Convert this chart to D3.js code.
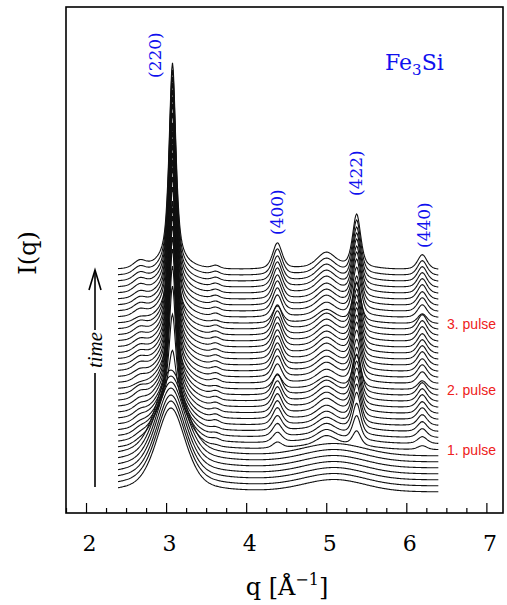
<!DOCTYPE html>
<html><head><meta charset="utf-8">
<script src="https://cdnjs.cloudflare.com/ajax/libs/d3/7.8.5/d3.min.js"></script>
<style>body{margin:0;background:#fff}svg{display:block}</style>
</head><body>
<script>
// ---- data (intensity in arbitrary units) ----
const xTicks = [2, 3, 4, 5, 6, 7];
const peakLabels = ["(220)", "(400)", "(422)", "(440)"];
const peakPos = [3.08, 4.39, 5.38, 6.20];
const pulseLabels = ["1. pulse", "2. pulse", "3. pulse"];
const pulseStart = [7, 17, 28];           // curve index where each pulse group begins
const qRange = [2.4, 6.4];
const curveStep = 6.0;                     // vertical offset between successive scans
const baseOffset = 21;

// broad amorphous halo at q~3.06
const amorphHeight = [84,85,85,86,86,86,86,
  60,50,42,36,32,28,26,24,22,20,
  22,18,16,15,14,13,12,12,11,11,10,
  12,10,9,9,8,8,8,7,7,7];
// broad amorphous hump at q~5.1
const amorph2Height = [12,12,12,12,12,12,12,
  6,5,4,4,3,3,3,3,3,3,
  3,3,3,3,3,3,3,3,3,3,3,
  3,3,3,3,3,3,3,3,3,3];
// Bragg peaks
const h220 = [0,0,0,0,0,0,0,
  40,80,110,130,145,155,162,168,172,175,
  130,165,175,180,184,187,189,191,192,193,194,
  150,185,190,193,195,196,197,198,199,200];
const h400 = [0,0,0,0,0,0,0,
  6,10,13,15,17,18,19,20,20,21,
  14,19,21,22,22,23,23,24,24,24,24,
  17,22,23,24,24,25,25,25,26,26];
const h422 = [0,0,0,0,0,0,0,
  14,24,31,36,39,41,43,44,45,46,
  32,42,45,47,48,49,49,50,50,51,51,
  38,48,50,51,51,52,52,52,53,53];
const h440 = [0,0,0,0,0,0,0,
  4,7,9,10,11,12,12,13,13,13,
  9,12,13,13,14,14,14,14,15,15,15,
  10,13,14,14,15,15,15,15,15,15];
// weak features at q~2.67, ~3.62 and ~5.0
const hLow = [0,0,0,0,0,0,0,
  2,3,4,4,5,5,5,5,6,6,
  3,5,5,6,6,6,6,6,6,6,6,
  4,6,6,6,6,7,7,7,7,7];
const h362 = [0,0,0,0,0,0,0,
  1,2,2,2,3,3,3,3,3,3,
  2,3,3,3,3,3,3,3,3,3,3,
  2,3,3,3,3,3,3,3,3,3];
const h500 = [0,0,0,0,0,0,0,
  8,9,10,10,11,11,12,12,12,12,
  10,11,12,12,12,13,13,13,13,13,13,
  11,12,13,13,13,14,14,14,14,14];

// ---- layout ----
const W = 507, H = 605;
const frame = {x0: 66, x1: 503, y0: 7, y1: 513};
const svg = d3.select("body").append("svg").attr("width", W).attr("height", H);

const x = d3.scaleLinear().domain([1.75, 7.22]).range([frame.x0, frame.x1 + 1]);
const y = d3.scaleLinear().domain([0, 506]).range([frame.y1, frame.y0]);

function pv(q, c, w, eta) {
  const d = (q - c) / w;
  return eta / (1 + d * d) + (1 - eta) * Math.exp(-Math.LN2 * d * d);
}
const qGrid = d3.range(qRange[0], qRange[1] + 1e-9, 0.01);
function intensity(q, i) {
  return baseOffset + i * curveStep
    + amorphHeight[i] * pv(q, 3.06, 0.22, 0.5)
    + amorph2Height[i] * pv(q, 5.1, 0.45, 0)
    + h220[i] * pv(q, peakPos[0], 0.05, 0.7)
    + h400[i] * pv(q, peakPos[1], 0.07, 0.5)
    + h422[i] * pv(q, peakPos[2], 0.06, 0.5)
    + h440[i] * pv(q, peakPos[3], 0.07, 0.5)
    + hLow[i] * pv(q, 2.67, 0.09, 0.3)
    + h362[i] * pv(q, 3.62, 0.06, 0.3)
    + h500[i] * pv(q, 5.0, 0.13, 0.3);
}

const line = d3.line().x(d => x(d[0])).y(d => y(d[1])).curve(d3.curveLinear);
const curves = svg.append("g");
amorphHeight.forEach((_, i) => {
  curves.append("path")
    .attr("d", line(qGrid.map(q => [q, intensity(q, i)])))
    .attr("fill", "none").attr("stroke", "#111").attr("stroke-width", 1.1);
});

// frame
svg.append("rect").attr("x", frame.x0).attr("y", frame.y0)
  .attr("width", frame.x1 - frame.x0).attr("height", frame.y1 - frame.y0)
  .attr("fill", "none").attr("stroke", "#000").attr("stroke-width", 1.6);

// x axis (inward ticks)
const minor = d3.range(1.75, 7.21, 0.25).filter(v => Math.abs(v - Math.round(v)) > 1e-6);
const gMinor = svg.append("g").attr("transform", `translate(0,${frame.y1})`)
  .call(d3.axisBottom(x).tickValues(minor).tickSize(-5).tickFormat(""));
const gMajor = svg.append("g").attr("transform", `translate(0,${frame.y1})`)
  .call(d3.axisBottom(x).tickValues(xTicks).tickSize(-10).tickPadding(22).tickFormat(d3.format("d")));
[gMinor, gMajor].forEach(g => {
  g.select(".domain").remove();
  g.selectAll("line").attr("stroke", "#000").attr("stroke-width", 1.2);
});
gMajor.selectAll("text").attr("font-family", "DejaVu Serif").attr("font-size", 22)
  .attr("fill", "#000").attr("dx", 3);

// axis titles
const xt = svg.append("text").attr("x", 287).attr("y", 595).attr("text-anchor", "middle")
  .attr("font-family", "DejaVu Serif").attr("font-size", 24).attr("fill", "#000");
xt.append("tspan").text("q [Å");
xt.append("tspan").attr("font-size", 16).attr("dy", -10).text("−1");
xt.append("tspan").attr("dy", 10).text("]");

svg.append("text").attr("transform", "translate(36,253) rotate(-90)")
  .attr("text-anchor", "middle").attr("font-family", "DejaVu Serif").attr("font-size", 24)
  .attr("fill", "#000").text("I(q)");

// time arrow
const ax = 95;
svg.append("line").attr("x1", ax).attr("x2", ax).attr("y1", 487).attr("y2", 373)
  .attr("stroke", "#000").attr("stroke-width", 1.6);
svg.append("line").attr("x1", ax).attr("x2", ax).attr("y1", 330).attr("y2", 271)
  .attr("stroke", "#000").attr("stroke-width", 1.6);
svg.append("path").attr("d", `M${ax - 6},${290} L${ax},${270} L${ax + 6},${290}`)
  .attr("fill", "none").attr("stroke", "#000").attr("stroke-width", 1.6);
svg.append("text").attr("transform", `translate(${ax + 7},350) rotate(-90)`)
  .attr("text-anchor", "middle").attr("font-family", "Liberation Serif")
  .attr("font-style", "italic").attr("font-size", 21).attr("fill", "#000").text("time");

// peak labels
const labelGeom = [{x: 161, y: 78}, {x: 283, y: 235}, {x: 362, y: 196}, {x: 430, y: 248}];
peakLabels.forEach((t, k) => {
  svg.append("text").attr("transform", `translate(${labelGeom[k].x},${labelGeom[k].y}) rotate(-90)`)
    .attr("text-anchor", "start").attr("font-family", "DejaVu Serif").attr("font-size", 17)
    .attr("fill", "#1010ee").text(t);
});

// compound label
const fe = svg.append("text").attr("x", 385).attr("y", 70).attr("font-family", "DejaVu Serif")
  .attr("font-size", 22).attr("fill", "#1010ee");
fe.append("tspan").text("Fe");
fe.append("tspan").attr("font-size", 15).attr("dy", 5).text("3");
fe.append("tspan").attr("dy", -5).text("Si");

// pulse labels
pulseLabels.forEach((t, k) => {
  svg.append("text").attr("x", 447).attr("y", y(baseOffset + pulseStart[k] * curveStep) + 5)
    .attr("font-family", "Liberation Sans").attr("font-size", 14).attr("fill", "#ee2020").text(t);
});
</script>
</body></html>
